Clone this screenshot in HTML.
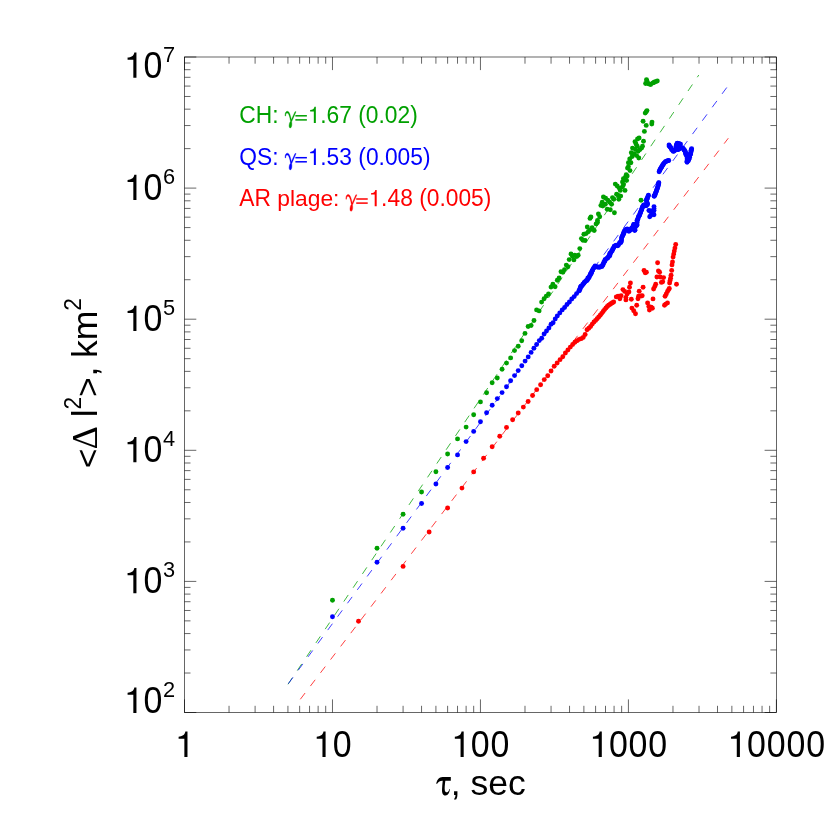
<!DOCTYPE html>
<html><head><meta charset="utf-8"><title>MSD vs tau</title>
<style>
html,body{margin:0;padding:0;background:#fff;}
body{width:830px;height:830px;overflow:hidden;font-family:"Liberation Sans",sans-serif;}
svg{display:block;will-change:transform;}
</style></head><body>
<svg width="830" height="830" viewBox="0 0 830 830">
<rect width="830" height="830" fill="#fff"/>
<g stroke="#000" stroke-width="0.6" fill="none" stroke-linecap="butt">
<rect x="184.5" y="57" width="591.9" height="655.5"/>
<path d="M184.5 712.5v-13.1M184.5 57v13.1M229.04 712.5v-6.7M229.04 57v6.7M255.1 712.5v-6.7M255.1 57v6.7M273.59 712.5v-6.7M273.59 57v6.7M287.93 712.5v-6.7M287.93 57v6.7M299.65 712.5v-6.7M299.65 57v6.7M309.55 712.5v-6.7M309.55 57v6.7M318.13 712.5v-6.7M318.13 57v6.7M325.7 712.5v-6.7M325.7 57v6.7M332.48 712.5v-13.1M332.48 57v13.1M377.02 712.5v-6.7M377.02 57v6.7M403.08 712.5v-6.7M403.08 57v6.7M421.56 712.5v-6.7M421.56 57v6.7M435.91 712.5v-6.7M435.91 57v6.7M447.62 712.5v-6.7M447.62 57v6.7M457.53 712.5v-6.7M457.53 57v6.7M466.11 712.5v-6.7M466.11 57v6.7M473.68 712.5v-6.7M473.68 57v6.7M480.45 712.5v-13.1M480.45 57v13.1M524.99 712.5v-6.7M524.99 57v6.7M551.05 712.5v-6.7M551.05 57v6.7M569.54 712.5v-6.7M569.54 57v6.7M583.88 712.5v-6.7M583.88 57v6.7M595.6 712.5v-6.7M595.6 57v6.7M605.5 712.5v-6.7M605.5 57v6.7M614.08 712.5v-6.7M614.08 57v6.7M621.65 712.5v-6.7M621.65 57v6.7M628.42 712.5v-13.1M628.42 57v13.1M672.97 712.5v-6.7M672.97 57v6.7M699.03 712.5v-6.7M699.03 57v6.7M717.51 712.5v-6.7M717.51 57v6.7M731.86 712.5v-6.7M731.86 57v6.7M743.57 712.5v-6.7M743.57 57v6.7M753.48 712.5v-6.7M753.48 57v6.7M762.06 712.5v-6.7M762.06 57v6.7M769.63 712.5v-6.7M769.63 57v6.7M776.4 712.5v-13.1M776.4 57v13.1M184.5 712.5h11.8M776.4 712.5h-11.8M184.5 673.03h6M776.4 673.03h-6M184.5 649.95h6M776.4 649.95h-6M184.5 633.57h6M776.4 633.57h-6M184.5 620.87h6M776.4 620.87h-6M184.5 610.48h6M776.4 610.48h-6M184.5 601.71h6M776.4 601.71h-6M184.5 594.1h6M776.4 594.1h-6M184.5 587.4h6M776.4 587.4h-6M184.5 581.4h11.8M776.4 581.4h-11.8M184.5 541.93h6M776.4 541.93h-6M184.5 518.85h6M776.4 518.85h-6M184.5 502.47h6M776.4 502.47h-6M184.5 489.77h6M776.4 489.77h-6M184.5 479.38h6M776.4 479.38h-6M184.5 470.61h6M776.4 470.61h-6M184.5 463h6M776.4 463h-6M184.5 456.3h6M776.4 456.3h-6M184.5 450.3h11.8M776.4 450.3h-11.8M184.5 410.83h6M776.4 410.83h-6M184.5 387.75h6M776.4 387.75h-6M184.5 371.37h6M776.4 371.37h-6M184.5 358.67h6M776.4 358.67h-6M184.5 348.28h6M776.4 348.28h-6M184.5 339.51h6M776.4 339.51h-6M184.5 331.9h6M776.4 331.9h-6M184.5 325.2h6M776.4 325.2h-6M184.5 319.2h11.8M776.4 319.2h-11.8M184.5 279.73h6M776.4 279.73h-6M184.5 256.65h6M776.4 256.65h-6M184.5 240.27h6M776.4 240.27h-6M184.5 227.57h6M776.4 227.57h-6M184.5 217.18h6M776.4 217.18h-6M184.5 208.41h6M776.4 208.41h-6M184.5 200.8h6M776.4 200.8h-6M184.5 194.1h6M776.4 194.1h-6M184.5 188.1h11.8M776.4 188.1h-11.8M184.5 148.63h6M776.4 148.63h-6M184.5 125.55h6M776.4 125.55h-6M184.5 109.17h6M776.4 109.17h-6M184.5 96.47h6M776.4 96.47h-6M184.5 86.08h6M776.4 86.08h-6M184.5 77.31h6M776.4 77.31h-6M184.5 69.7h6M776.4 69.7h-6M184.5 63h6M776.4 63h-6M184.5 57h11.8M776.4 57h-11.8"/>
</g>
<g fill="#000">
<path d="M187.48 756.9L184.36 756.9L184.36 738.87L178.61 738.87L178.61 736.69C182.09 736.55 184.82 735.12 185.35 731.59L187.48 731.59Z"/>
<path d="M325.59 756.9L322.46 756.9L322.46 738.87L316.71 738.87L316.71 736.69C320.19 736.55 322.93 735.12 323.46 731.59L325.59 731.59Z"/>
<text transform="translate(342.09 756.9) scale(0.955 1.036)" font-family="Liberation Sans, sans-serif" font-size="35.5" text-anchor="middle" xml:space="preserve">0</text>
<path d="M463.69 756.9L460.57 756.9L460.57 738.87L454.82 738.87L454.82 736.69C458.3 736.55 461.03 735.12 461.56 731.59L463.69 731.59Z"/>
<text transform="translate(480.2 756.9) scale(0.955 1.036)" font-family="Liberation Sans, sans-serif" font-size="35.5" text-anchor="middle" xml:space="preserve">0</text>
<text transform="translate(499.94 756.9) scale(0.955 1.036)" font-family="Liberation Sans, sans-serif" font-size="35.5" text-anchor="middle" xml:space="preserve">0</text>
<path d="M601.8 756.9L598.68 756.9L598.68 738.87L592.92 738.87L592.92 736.69C596.4 736.55 599.14 735.12 599.67 731.59L601.8 731.59Z"/>
<text transform="translate(618.31 756.9) scale(0.955 1.036)" font-family="Liberation Sans, sans-serif" font-size="35.5" text-anchor="middle" xml:space="preserve">0</text>
<text transform="translate(638.04 756.9) scale(0.955 1.036)" font-family="Liberation Sans, sans-serif" font-size="35.5" text-anchor="middle" xml:space="preserve">0</text>
<text transform="translate(657.78 756.9) scale(0.955 1.036)" font-family="Liberation Sans, sans-serif" font-size="35.5" text-anchor="middle" xml:space="preserve">0</text>
<path d="M739.91 756.9L736.78 756.9L736.78 738.87L731.03 738.87L731.03 736.69C734.51 736.55 737.24 735.12 737.78 731.59L739.91 731.59Z"/>
<text transform="translate(756.41 756.9) scale(0.955 1.036)" font-family="Liberation Sans, sans-serif" font-size="35.5" text-anchor="middle" xml:space="preserve">0</text>
<text transform="translate(776.15 756.9) scale(0.955 1.036)" font-family="Liberation Sans, sans-serif" font-size="35.5" text-anchor="middle" xml:space="preserve">0</text>
<text transform="translate(795.89 756.9) scale(0.955 1.036)" font-family="Liberation Sans, sans-serif" font-size="35.5" text-anchor="middle" xml:space="preserve">0</text>
<text transform="translate(815.63 756.9) scale(0.955 1.036)" font-family="Liberation Sans, sans-serif" font-size="35.5" text-anchor="middle" xml:space="preserve">0</text>
<path d="M136.45 77.7L133.33 77.7L133.33 59.67L127.58 59.67L127.58 57.49C131.06 57.35 133.79 55.92 134.32 52.39L136.45 52.39Z"/>
<text transform="translate(152.96 77.7) scale(0.955 1.036)" font-family="Liberation Sans, sans-serif" font-size="35.5" text-anchor="middle" xml:space="preserve">0</text>
<text transform="translate(163.08 61.5) scale(1 1.036)" font-family="Liberation Sans, sans-serif" font-size="21.8" xml:space="preserve">7</text>
<path d="M136.45 200.1L133.33 200.1L133.33 182.07L127.58 182.07L127.58 179.89C131.06 179.75 133.79 178.32 134.32 174.79L136.45 174.79Z"/>
<text transform="translate(152.96 200.1) scale(0.955 1.036)" font-family="Liberation Sans, sans-serif" font-size="35.5" text-anchor="middle" xml:space="preserve">0</text>
<text transform="translate(163.08 183.9) scale(1 1.036)" font-family="Liberation Sans, sans-serif" font-size="21.8" xml:space="preserve">6</text>
<path d="M136.45 331.1L133.33 331.1L133.33 313.07L127.58 313.07L127.58 310.89C131.06 310.75 133.79 309.32 134.32 305.79L136.45 305.79Z"/>
<text transform="translate(152.96 331.1) scale(0.955 1.036)" font-family="Liberation Sans, sans-serif" font-size="35.5" text-anchor="middle" xml:space="preserve">0</text>
<text transform="translate(163.08 314.9) scale(1 1.036)" font-family="Liberation Sans, sans-serif" font-size="21.8" xml:space="preserve">5</text>
<path d="M136.45 462.2L133.33 462.2L133.33 444.17L127.58 444.17L127.58 441.99C131.06 441.85 133.79 440.42 134.32 436.89L136.45 436.89Z"/>
<text transform="translate(152.96 462.2) scale(0.955 1.036)" font-family="Liberation Sans, sans-serif" font-size="35.5" text-anchor="middle" xml:space="preserve">0</text>
<text transform="translate(163.08 446) scale(1 1.036)" font-family="Liberation Sans, sans-serif" font-size="21.8" xml:space="preserve">4</text>
<path d="M136.45 593.3L133.33 593.3L133.33 575.27L127.58 575.27L127.58 573.09C131.06 572.95 133.79 571.52 134.32 567.99L136.45 567.99Z"/>
<text transform="translate(152.96 593.3) scale(0.955 1.036)" font-family="Liberation Sans, sans-serif" font-size="35.5" text-anchor="middle" xml:space="preserve">0</text>
<text transform="translate(163.08 577.1) scale(1 1.036)" font-family="Liberation Sans, sans-serif" font-size="21.8" xml:space="preserve">3</text>
<path d="M136.45 712.9L133.33 712.9L133.33 694.87L127.58 694.87L127.58 692.69C131.06 692.55 133.79 691.12 134.32 687.59L136.45 687.59Z"/>
<text transform="translate(152.96 712.9) scale(0.955 1.036)" font-family="Liberation Sans, sans-serif" font-size="35.5" text-anchor="middle" xml:space="preserve">0</text>
<text transform="translate(163.08 696.7) scale(1 1.036)" font-family="Liberation Sans, sans-serif" font-size="21.8" xml:space="preserve">2</text>
<path d="M436.17 783.7C437.23 779.46 439.16 777.14 442.53 777.05L450.82 777.05L450.82 780.66L445.33 780.66C444.84 784.28 444.46 788.13 444.84 790.54C445.18 792.47 446.87 792.71 448.07 791.75C448.8 791.02 449.18 790.06 449.42 789L449.9 789.1C449.52 792.47 448.31 795.6 445.42 795.6C442.77 795.6 441.81 792.95 442.05 789.1C442.14 786.2 442.43 783.31 442.72 780.66C440.6 780.52 438.43 781.14 437.13 783.8Z"/>
<text transform="translate(450.8 794.6) scale(1 1.0)" font-family="Liberation Sans, sans-serif" font-size="35.5" xml:space="preserve">, sec</text>
<g transform="translate(96.7 0) rotate(-90)">
<text transform="translate(-468.2 2.7) scale(1 1.0)" font-family="Liberation Sans, sans-serif" font-size="33.5" xml:space="preserve">&lt;</text>
<text transform="translate(-449.2 0) scale(1 1.0)" font-family="Liberation Serif, serif" font-size="35.8" xml:space="preserve">Δ</text>
<text transform="translate(-417.3 0) scale(1 1.0)" font-family="Liberation Sans, sans-serif" font-size="35.5" xml:space="preserve">l</text>
<text transform="translate(-409.42 -15.6) scale(1 1.036)" font-family="Liberation Sans, sans-serif" font-size="22.6" xml:space="preserve">2</text>
<text transform="translate(-397.04 2.7) scale(1 1.0)" font-family="Liberation Sans, sans-serif" font-size="33.5" xml:space="preserve">&gt;</text>
<text transform="translate(-376.51 0) scale(1 1.0)" font-family="Liberation Sans, sans-serif" font-size="35.5" xml:space="preserve">,</text>
<text transform="translate(-358 0) scale(1 1.0)" font-family="Liberation Sans, sans-serif" font-size="35.5" xml:space="preserve">km</text>
<text transform="translate(-310.68 -15.6) scale(1 1.036)" font-family="Liberation Sans, sans-serif" font-size="22.6" xml:space="preserve">2</text>
</g>
</g>
<g fill="#00a000">
<text transform="translate(239.3 123) scale(1 1.036)" font-family="Liberation Sans, sans-serif" font-size="22.8" xml:space="preserve">CH: </text>
<path stroke="#00a000" stroke-width="0.35" stroke-linejoin="round" d="M285.02 116C284.88 113.11 285.84 111.28 287.43 111.28C289.46 111.28 290.66 116 291.29 119.86L295 111.67L296.06 111.67L291.63 121.79C292.11 124.2 291.96 127.09 290.52 128.05C289.22 128.29 288.73 126.12 289.36 123.71C289.6 122.75 290.04 122.03 290.52 121.3C290.04 117.93 288.98 113.11 287.14 113.02C286.18 113.02 285.7 114.32 285.6 116Z"/>
<rect x="295.37" y="115.05" width="11.5" height="1.5"/>
<rect x="295.37" y="119.15" width="11.5" height="1.5"/>
<path d="M315.84 123L313.83 123L313.83 111.39L310.14 111.39L310.14 109.98C312.37 109.89 314.13 108.97 314.47 106.69L315.84 106.69Z"/>
<text transform="translate(320.26 123) scale(1 1.036)" font-family="Liberation Sans, sans-serif" font-size="22.8" xml:space="preserve">.67 (0.02)</text>
</g>
<g fill="#0000ff">
<text transform="translate(239.3 164.9) scale(1 1.036)" font-family="Liberation Sans, sans-serif" font-size="22.8" xml:space="preserve">QS: </text>
<path stroke="#0000ff" stroke-width="0.35" stroke-linejoin="round" d="M285.05 157.9C284.9 155.01 285.87 153.18 287.46 153.18C289.48 153.18 290.69 157.9 291.31 161.76L295.02 153.57L296.08 153.57L291.65 163.69C292.13 166.1 291.99 168.99 290.54 169.95C289.24 170.19 288.76 168.02 289.38 165.61C289.63 164.65 290.06 163.93 290.54 163.2C290.06 159.83 289 155.01 287.17 154.92C286.2 154.92 285.72 156.22 285.63 157.9Z"/>
<rect x="295.39" y="156.95" width="11.5" height="1.5"/>
<rect x="295.39" y="161.05" width="11.5" height="1.5"/>
<path d="M315.86 164.9L313.86 164.9L313.86 153.28L310.16 153.28L310.16 151.88C312.4 151.79 314.15 150.87 314.49 148.59L315.86 148.59Z"/>
<text transform="translate(320.29 164.9) scale(1 1.036)" font-family="Liberation Sans, sans-serif" font-size="22.8" xml:space="preserve">.53 (0.005)</text>
</g>
<g fill="#ff0000">
<text transform="translate(239.3 206.2) scale(1 1.036)" font-family="Liberation Sans, sans-serif" font-size="22.8" xml:space="preserve">AR </text>
<text transform="translate(277.31 206.2) scale(1 1.0)" font-family="Liberation Sans, sans-serif" font-size="22.8" xml:space="preserve">plage: </text>
<path stroke="#ff0000" stroke-width="0.35" stroke-linejoin="round" d="M345.88 199.2C345.73 196.31 346.7 194.48 348.29 194.48C350.31 194.48 351.52 199.2 352.14 203.06L355.85 194.87L356.91 194.87L352.48 204.99C352.96 207.4 352.82 210.29 351.37 211.25C350.07 211.49 349.59 209.32 350.21 206.91C350.46 205.95 350.89 205.23 351.37 204.5C350.89 201.13 349.83 196.31 348 196.22C347.03 196.22 346.55 197.52 346.46 199.2Z"/>
<rect x="356.22" y="198.25" width="11.5" height="1.5"/>
<rect x="356.22" y="202.35" width="11.5" height="1.5"/>
<path d="M376.69 206.2L374.69 206.2L374.69 194.58L370.99 194.58L370.99 193.18C373.23 193.09 374.98 192.17 375.32 189.89L376.69 189.89Z"/>
<text transform="translate(381.12 206.2) scale(1 1.036)" font-family="Liberation Sans, sans-serif" font-size="22.8" xml:space="preserve">.48 (0.005)</text>
</g>
<g fill="none" stroke-width="0.75" stroke-dasharray="7.9 8.74">
<path stroke="#00a000" d="M288 684.3L698.8 75"/>
<path stroke="#0000ff" d="M288.3 683.7L727.2 86.9"/>
<path stroke="#ff0000" d="M300.3 699.3L728.3 138.2"/>
</g>
<g fill="#00a000"><circle cx="332.48" cy="600.3" r="2.45"/><circle cx="377.02" cy="548.3" r="2.45"/><circle cx="403.08" cy="514.3" r="2.45"/><circle cx="421.56" cy="492" r="2.45"/><circle cx="435.91" cy="471.7" r="2.45"/><circle cx="447.62" cy="454" r="2.45"/><circle cx="457.53" cy="438.9" r="2.45"/><circle cx="466.11" cy="427.1" r="2.45"/><circle cx="473.68" cy="414.7" r="2.45"/><circle cx="480.45" cy="401.9" r="2.45"/><circle cx="486.58" cy="392.8" r="2.45"/><circle cx="492.17" cy="382.8" r="2.45"/><circle cx="497.31" cy="378" r="2.45"/><circle cx="502.07" cy="369.3" r="2.45"/><circle cx="506.51" cy="363.1" r="2.45"/><circle cx="510.65" cy="357.9" r="2.45"/><circle cx="514.55" cy="350.6" r="2.45"/><circle cx="518.22" cy="346.3" r="2.45"/><circle cx="521.7" cy="340.7" r="2.45"/><circle cx="524.99" cy="333.4" r="2.45"/><circle cx="528.13" cy="326.5" r="2.45"/><circle cx="531.12" cy="325.5" r="2.45"/><circle cx="533.98" cy="320.5" r="2.45"/><circle cx="536.6" cy="309.9" r="2.45"/><circle cx="539.1" cy="310.9" r="2.45"/><circle cx="541.6" cy="302.1" r="2.45"/><circle cx="544.1" cy="298.7" r="2.45"/><circle cx="546.3" cy="296.1" r="2.45"/><circle cx="548.5" cy="294" r="2.45"/><circle cx="551" cy="287.1" r="2.45"/><circle cx="552.9" cy="284.2" r="2.45"/><circle cx="555.1" cy="286.7" r="2.45"/><circle cx="557.3" cy="280.2" r="2.45"/><circle cx="559.1" cy="278" r="2.45"/><circle cx="561" cy="271.7" r="2.45"/><circle cx="562.9" cy="272.3" r="2.45"/><circle cx="564.5" cy="269.8" r="2.45"/><circle cx="566.3" cy="265.1" r="2.45"/><circle cx="567.9" cy="266.7" r="2.45"/><circle cx="569.2" cy="259.6" r="2.45"/><circle cx="571" cy="254" r="2.45"/><circle cx="573.9" cy="259.9" r="2.45"/><circle cx="574.8" cy="255.2" r="2.45"/><circle cx="576.7" cy="256.5" r="2.45"/><circle cx="578.2" cy="255.2" r="2.45"/><circle cx="579.8" cy="248.6" r="2.45"/><circle cx="581.4" cy="238.6" r="2.45"/><circle cx="582.9" cy="240.2" r="2.45"/><circle cx="585.1" cy="240.5" r="2.45"/><circle cx="583.9" cy="234.2" r="2.45"/><circle cx="586.1" cy="233.6" r="2.45"/><circle cx="588.3" cy="231.7" r="2.45"/><circle cx="589.8" cy="230.1" r="2.45"/><circle cx="587.3" cy="227" r="2.45"/><circle cx="592.3" cy="228.9" r="2.45"/><circle cx="594.2" cy="230.5" r="2.45"/><circle cx="596.1" cy="223.9" r="2.45"/><circle cx="597.4" cy="222.6" r="2.45"/><circle cx="572.5" cy="256.4" r="2.45"/><circle cx="590" cy="218.4" r="2.45"/><circle cx="592.1" cy="227.7" r="2.45"/><circle cx="590.9" cy="217" r="2.45"/><circle cx="597.5" cy="220.5" r="2.45"/><circle cx="599.7" cy="216.7" r="2.45"/><circle cx="598.4" cy="213.9" r="2.45"/><circle cx="600.9" cy="205.4" r="2.45"/><circle cx="602.2" cy="202.3" r="2.45"/><circle cx="602.8" cy="206.1" r="2.45"/><circle cx="605.3" cy="204.2" r="2.45"/><circle cx="603.4" cy="197" r="2.45"/><circle cx="605.6" cy="198.2" r="2.45"/><circle cx="607.8" cy="200.1" r="2.45"/><circle cx="609.7" cy="202.3" r="2.45"/><circle cx="611.6" cy="204.2" r="2.45"/><circle cx="607.2" cy="209.2" r="2.45"/><circle cx="610.3" cy="209.8" r="2.45"/><circle cx="614.4" cy="212.7" r="2.45"/><circle cx="612.5" cy="197.6" r="2.45"/><circle cx="613.8" cy="199.2" r="2.45"/><circle cx="616.6" cy="194.2" r="2.45"/><circle cx="618.5" cy="195.4" r="2.45"/><circle cx="620.7" cy="196.1" r="2.45"/><circle cx="618.8" cy="199.2" r="2.45"/><circle cx="615.3" cy="184.1" r="2.45"/><circle cx="617.2" cy="186" r="2.45"/><circle cx="619.4" cy="188.2" r="2.45"/><circle cx="620.3" cy="190.4" r="2.45"/><circle cx="625" cy="190.4" r="2.45"/><circle cx="622.5" cy="186.7" r="2.45"/><circle cx="623.5" cy="184.8" r="2.45"/><circle cx="622.5" cy="182" r="2.45"/><circle cx="624.7" cy="179.8" r="2.45"/><circle cx="626.6" cy="180.4" r="2.45"/><circle cx="625.4" cy="177.3" r="2.45"/><circle cx="627.2" cy="176" r="2.45"/><circle cx="644.4" cy="131.4" r="2.45"/><circle cx="643.5" cy="141.2" r="2.45"/><circle cx="639.1" cy="138" r="2.45"/><circle cx="637.5" cy="139" r="2.45"/><circle cx="635" cy="141.8" r="2.45"/><circle cx="636" cy="144" r="2.45"/><circle cx="637.2" cy="146.2" r="2.45"/><circle cx="642.5" cy="146.2" r="2.45"/><circle cx="641.6" cy="148.1" r="2.45"/><circle cx="632.5" cy="148.1" r="2.45"/><circle cx="635.3" cy="149.3" r="2.45"/><circle cx="638.1" cy="151.2" r="2.45"/><circle cx="640" cy="149.6" r="2.45"/><circle cx="631.3" cy="152.7" r="2.45"/><circle cx="634.1" cy="153.7" r="2.45"/><circle cx="636.6" cy="155.6" r="2.45"/><circle cx="638.8" cy="158" r="2.45"/><circle cx="632.2" cy="156.5" r="2.45"/><circle cx="629.7" cy="159" r="2.45"/><circle cx="628.4" cy="162.8" r="2.45"/><circle cx="630.9" cy="162.8" r="2.45"/><circle cx="627.5" cy="168.1" r="2.45"/><circle cx="630" cy="170.6" r="2.45"/><circle cx="628.4" cy="166.8" r="2.45"/><circle cx="626.2" cy="174.7" r="2.45"/><circle cx="623.4" cy="178.8" r="2.45"/><circle cx="646.5" cy="79.8" r="2.45"/><circle cx="645.6" cy="83.5" r="2.45"/><circle cx="648.3" cy="83.7" r="2.45"/><circle cx="650.7" cy="84.5" r="2.45"/><circle cx="653" cy="82.9" r="2.45"/><circle cx="655.4" cy="81.7" r="2.45"/><circle cx="657.3" cy="81" r="2.45"/><circle cx="647" cy="110.6" r="2.45"/><circle cx="645.2" cy="113.1" r="2.45"/><circle cx="643.1" cy="121.3" r="2.45"/><circle cx="652" cy="122.1" r="2.45"/><circle cx="651.8" cy="124" r="2.45"/><circle cx="646.2" cy="125.4" r="2.45"/><circle cx="647" cy="80.9" r="2.45"/><circle cx="649.5" cy="84" r="2.45"/><circle cx="654.2" cy="82.3" r="2.45"/><circle cx="646.2" cy="111.8" r="2.45"/><circle cx="641" cy="200.2" r="2.45"/></g>
<g fill="#0000ff"><circle cx="332.48" cy="616.7" r="2.45"/><circle cx="377.02" cy="562.2" r="2.45"/><circle cx="403.08" cy="528.2" r="2.45"/><circle cx="421.56" cy="503.5" r="2.45"/><circle cx="435.91" cy="484" r="2.45"/><circle cx="447.62" cy="467.5" r="2.45"/><circle cx="457.53" cy="454.9" r="2.45"/><circle cx="466.11" cy="441.6" r="2.45"/><circle cx="473.68" cy="431.4" r="2.45"/><circle cx="480.45" cy="421.8" r="2.45"/><circle cx="486.58" cy="412.7" r="2.45"/><circle cx="492.17" cy="405.3" r="2.45"/><circle cx="497.31" cy="398.6" r="2.45"/><circle cx="502.07" cy="392.6" r="2.45"/><circle cx="506.51" cy="386.8" r="2.45"/><circle cx="510.65" cy="380.7" r="2.45"/><circle cx="514.55" cy="375.6" r="2.45"/><circle cx="518.22" cy="370.6" r="2.45"/><circle cx="521.8" cy="365.7" r="2.45"/><circle cx="525.1" cy="361.1" r="2.45"/><circle cx="528.2" cy="356.9" r="2.45"/><circle cx="531.1" cy="352.4" r="2.45"/><circle cx="533.9" cy="348.2" r="2.45"/><circle cx="536.6" cy="344.5" r="2.45"/><circle cx="539.3" cy="340.6" r="2.45"/><circle cx="541.7" cy="338.2" r="2.45"/><circle cx="544.1" cy="334" r="2.45"/><circle cx="546.5" cy="331" r="2.45"/><circle cx="548.9" cy="328" r="2.45"/><circle cx="551.1" cy="324.3" r="2.45"/><circle cx="553.1" cy="322.8" r="2.45"/><circle cx="555.2" cy="318.9" r="2.45"/><circle cx="557.3" cy="315.9" r="2.45"/><circle cx="559.8" cy="312.9" r="2.45"/><circle cx="562.2" cy="309.9" r="2.45"/><circle cx="564.6" cy="307.5" r="2.45"/><circle cx="567" cy="304.5" r="2.45"/><circle cx="569.4" cy="302" r="2.45"/><circle cx="571.8" cy="299" r="2.45"/><circle cx="574.2" cy="296.6" r="2.45"/><circle cx="576.6" cy="293.6" r="2.45"/><circle cx="579" cy="290.6" r="2.45"/><circle cx="579.32" cy="290.69" r="2.45"/><circle cx="579.45" cy="290.05" r="2.45"/><circle cx="580.27" cy="288.7" r="2.45"/><circle cx="580.37" cy="287.31" r="2.45"/><circle cx="580.98" cy="286.29" r="2.45"/><circle cx="581.67" cy="286.19" r="2.45"/><circle cx="582.59" cy="284.72" r="2.45"/><circle cx="583.35" cy="283.96" r="2.45"/><circle cx="584.03" cy="283.11" r="2.45"/><circle cx="584.25" cy="282.43" r="2.45"/><circle cx="585.14" cy="281.82" r="2.45"/><circle cx="586.22" cy="280.68" r="2.45"/><circle cx="586.89" cy="280.56" r="2.45"/><circle cx="587.69" cy="279.6" r="2.45"/><circle cx="587.86" cy="278.05" r="2.45"/><circle cx="588.98" cy="277.7" r="2.45"/><circle cx="589.22" cy="276.67" r="2.45"/><circle cx="590.2" cy="275.21" r="2.45"/><circle cx="590.34" cy="274.18" r="2.45"/><circle cx="590.83" cy="273.52" r="2.45"/><circle cx="591.52" cy="272.9" r="2.45"/><circle cx="592" cy="271.24" r="2.45"/><circle cx="591.95" cy="271.11" r="2.45"/><circle cx="592.62" cy="270.12" r="2.45"/><circle cx="593.24" cy="268.58" r="2.45"/><circle cx="593.95" cy="267.73" r="2.45"/><circle cx="594.45" cy="267.35" r="2.45"/><circle cx="595.09" cy="266.06" r="2.45"/><circle cx="596.28" cy="266.5" r="2.45"/><circle cx="597.49" cy="267.15" r="2.45"/><circle cx="598.54" cy="267.17" r="2.45"/><circle cx="599.74" cy="267.22" r="2.45"/><circle cx="600.26" cy="266.65" r="2.45"/><circle cx="601.76" cy="266.64" r="2.45"/><circle cx="602.28" cy="265.67" r="2.45"/><circle cx="602.86" cy="265.01" r="2.45"/><circle cx="603.12" cy="264.21" r="2.45"/><circle cx="603.74" cy="262.57" r="2.45"/><circle cx="604.41" cy="261.67" r="2.45"/><circle cx="604.94" cy="260.88" r="2.45"/><circle cx="604.97" cy="260.07" r="2.45"/><circle cx="605.47" cy="259.46" r="2.45"/><circle cx="606.87" cy="258.39" r="2.45"/><circle cx="607.66" cy="257.96" r="2.45"/><circle cx="608.24" cy="257.18" r="2.45"/><circle cx="608.92" cy="256.06" r="2.45"/><circle cx="609.81" cy="255.69" r="2.45"/><circle cx="609.72" cy="253.75" r="2.45"/><circle cx="610.23" cy="253.15" r="2.45"/><circle cx="610.86" cy="252.75" r="2.45"/><circle cx="611.6" cy="251.08" r="2.45"/><circle cx="612.27" cy="250.75" r="2.45"/><circle cx="612.74" cy="249.13" r="2.45"/><circle cx="613" cy="248.79" r="2.45"/><circle cx="614" cy="247.32" r="2.45"/><circle cx="614.19" cy="246.28" r="2.45"/><circle cx="615.46" cy="245.73" r="2.45"/><circle cx="616.2" cy="245.23" r="2.45"/><circle cx="617.75" cy="245.73" r="2.45"/><circle cx="618.41" cy="244.93" r="2.45"/><circle cx="619.36" cy="243.56" r="2.45"/><circle cx="619.85" cy="242.56" r="2.45"/><circle cx="620.9" cy="242.46" r="2.45"/><circle cx="621.38" cy="241.05" r="2.45"/><circle cx="621.2" cy="240.69" r="2.45"/><circle cx="621.55" cy="239.02" r="2.45"/><circle cx="621.76" cy="237.54" r="2.45"/><circle cx="622.07" cy="236.83" r="2.45"/><circle cx="622.54" cy="235.77" r="2.45"/><circle cx="622.95" cy="235.02" r="2.45"/><circle cx="623.42" cy="234.15" r="2.45"/><circle cx="623.61" cy="232.74" r="2.45"/><circle cx="624.19" cy="232.38" r="2.45"/><circle cx="624.45" cy="230.86" r="2.45"/><circle cx="625.24" cy="229.9" r="2.45"/><circle cx="626.11" cy="229.52" r="2.45"/><circle cx="627.16" cy="228.84" r="2.45"/><circle cx="627.66" cy="229.77" r="2.45"/><circle cx="628.01" cy="230.76" r="2.45"/><circle cx="628.95" cy="231.37" r="2.45"/><circle cx="629.86" cy="230.58" r="2.45"/><circle cx="630.24" cy="229.64" r="2.45"/><circle cx="631.24" cy="228.78" r="2.45"/><circle cx="632.04" cy="227.8" r="2.45"/><circle cx="632.92" cy="227.91" r="2.45"/><circle cx="633.49" cy="226.41" r="2.45"/><circle cx="633.76" cy="225.37" r="2.45"/><circle cx="633.99" cy="224.33" r="2.45"/><circle cx="633.69" cy="224.56" r="2.45"/><circle cx="634.04" cy="225.31" r="2.45"/><circle cx="634.25" cy="226.12" r="2.45"/><circle cx="633.99" cy="227.2" r="2.45"/><circle cx="634.71" cy="228.95" r="2.45"/><circle cx="634.31" cy="230.11" r="2.45"/><circle cx="634.71" cy="230.28" r="2.45"/><circle cx="634.9" cy="230.24" r="2.45"/><circle cx="634.69" cy="229.17" r="2.45"/><circle cx="635.12" cy="227.25" r="2.45"/><circle cx="635.25" cy="227" r="2.45"/><circle cx="635.12" cy="225.63" r="2.45"/><circle cx="635.01" cy="224.76" r="2.45"/><circle cx="635.87" cy="224.47" r="2.45"/><circle cx="636.49" cy="225.38" r="2.45"/><circle cx="636.87" cy="225.21" r="2.45"/><circle cx="636.93" cy="224.58" r="2.45"/><circle cx="636.93" cy="223.09" r="2.45"/><circle cx="637.13" cy="222.09" r="2.45"/><circle cx="637.01" cy="220.56" r="2.45"/><circle cx="637.72" cy="219.52" r="2.45"/><circle cx="637.83" cy="219.08" r="2.45"/><circle cx="638.26" cy="217.72" r="2.45"/><circle cx="638.58" cy="216.36" r="2.45"/><circle cx="638.98" cy="216.34" r="2.45"/><circle cx="639.79" cy="214.74" r="2.45"/><circle cx="639.93" cy="213.61" r="2.45"/><circle cx="640.49" cy="212.71" r="2.45"/><circle cx="640.66" cy="212.01" r="2.45"/><circle cx="641.35" cy="210.37" r="2.45"/><circle cx="641.73" cy="209.82" r="2.45"/><circle cx="641.87" cy="208.68" r="2.45"/><circle cx="642.42" cy="207.14" r="2.45"/><circle cx="642.61" cy="206.9" r="2.45"/><circle cx="643.38" cy="205.8" r="2.45"/><circle cx="643.84" cy="204.83" r="2.45"/><circle cx="644.89" cy="204.83" r="2.45"/><circle cx="645.92" cy="205.69" r="2.45"/><circle cx="646.41" cy="205.61" r="2.45"/><circle cx="647.54" cy="204.48" r="2.45"/><circle cx="647.38" cy="203.57" r="2.45"/><circle cx="647.03" cy="202.96" r="2.45"/><circle cx="646.63" cy="201.67" r="2.45"/><circle cx="646.52" cy="200.15" r="2.45"/><circle cx="646.79" cy="199.31" r="2.45"/><circle cx="647.31" cy="198.48" r="2.45"/><circle cx="647.33" cy="197.7" r="2.45"/><circle cx="648.22" cy="196.02" r="2.45"/><circle cx="648.44" cy="195.28" r="2.45"/><circle cx="654" cy="196" r="2.45"/><circle cx="654" cy="206.6" r="2.45"/><circle cx="648.9" cy="210.5" r="2.45"/><circle cx="651.7" cy="211.3" r="2.45"/><circle cx="654" cy="210.5" r="2.45"/><circle cx="651.7" cy="214" r="2.45"/><circle cx="654" cy="214.8" r="2.45"/><circle cx="649.7" cy="216.8" r="2.45"/><circle cx="650.4" cy="210.9" r="2.45"/><circle cx="652.9" cy="212.6" r="2.45"/><circle cx="654" cy="208.6" r="2.45"/><circle cx="650.7" cy="215.4" r="2.45"/><circle cx="654.3" cy="196.3" r="2.45"/><circle cx="654.67" cy="195.37" r="2.45"/><circle cx="655.04" cy="194.44" r="2.45"/><circle cx="655.41" cy="193.51" r="2.45"/><circle cx="655.78" cy="192.58" r="2.45"/><circle cx="656.14" cy="191.65" r="2.45"/><circle cx="656.5" cy="190.72" r="2.45"/><circle cx="656.84" cy="189.78" r="2.45"/><circle cx="657.16" cy="188.83" r="2.45"/><circle cx="657.47" cy="187.88" r="2.45"/><circle cx="657.78" cy="186.93" r="2.45"/><circle cx="658.07" cy="185.97" r="2.45"/><circle cx="658.36" cy="185.01" r="2.45"/><circle cx="658.62" cy="184.05" r="2.45"/><circle cx="658.76" cy="183.06" r="2.45"/><circle cx="658.8" cy="182.8" r="2.45"/><circle cx="659.1" cy="171.7" r="2.45"/><circle cx="659.52" cy="170.79" r="2.45"/><circle cx="659.94" cy="169.89" r="2.45"/><circle cx="660.36" cy="168.98" r="2.45"/><circle cx="660.89" cy="168.13" r="2.45"/><circle cx="661.42" cy="167.28" r="2.45"/><circle cx="661.94" cy="166.43" r="2.45"/><circle cx="662.46" cy="165.57" r="2.45"/><circle cx="662.98" cy="164.72" r="2.45"/><circle cx="663.54" cy="163.89" r="2.45"/><circle cx="664.12" cy="163.08" r="2.45"/><circle cx="664.83" cy="162.37" r="2.45"/><circle cx="665.53" cy="161.67" r="2.45"/><circle cx="666.4" cy="161.21" r="2.45"/><circle cx="667.35" cy="160.92" r="2.45"/><circle cx="668.31" cy="160.62" r="2.45"/><circle cx="668.7" cy="160.5" r="2.45"/><circle cx="669.03" cy="145.06" r="2.45"/><circle cx="669.31" cy="146.16" r="2.45"/><circle cx="670.08" cy="146.75" r="2.45"/><circle cx="670.34" cy="147.3" r="2.45"/><circle cx="670.97" cy="148.12" r="2.45"/><circle cx="671.53" cy="149.49" r="2.45"/><circle cx="672.25" cy="149.84" r="2.45"/><circle cx="672.85" cy="150.69" r="2.45"/><circle cx="673.41" cy="151.4" r="2.45"/><circle cx="673.86" cy="150.94" r="2.45"/><circle cx="674.8" cy="150.53" r="2.45"/><circle cx="675.65" cy="149.58" r="2.45"/><circle cx="675.85" cy="149.13" r="2.45"/><circle cx="676.14" cy="148.06" r="2.45"/><circle cx="675.97" cy="146.57" r="2.45"/><circle cx="676.49" cy="145.94" r="2.45"/><circle cx="676.4" cy="144.86" r="2.45"/><circle cx="677" cy="143.55" r="2.45"/><circle cx="677.5" cy="143.18" r="2.45"/><circle cx="678.53" cy="143.43" r="2.45"/><circle cx="679.62" cy="144.07" r="2.45"/><circle cx="680.52" cy="144.09" r="2.45"/><circle cx="679.96" cy="145.61" r="2.45"/><circle cx="679.78" cy="146.55" r="2.45"/><circle cx="679.57" cy="147.08" r="2.45"/><circle cx="679.43" cy="148.12" r="2.45"/><circle cx="678.71" cy="149.27" r="2.45"/><circle cx="677.94" cy="149.34" r="2.45"/><circle cx="677.85" cy="149.6" r="2.45"/><circle cx="678.66" cy="149.07" r="2.45"/><circle cx="679.35" cy="148.31" r="2.45"/><circle cx="680.35" cy="148.23" r="2.45"/><circle cx="680.93" cy="147.87" r="2.45"/><circle cx="682.24" cy="147.92" r="2.45"/><circle cx="682.9" cy="148.09" r="2.45"/><circle cx="683.57" cy="149.12" r="2.45"/><circle cx="684.02" cy="150.06" r="2.45"/><circle cx="684.63" cy="150.43" r="2.45"/><circle cx="685.13" cy="151.43" r="2.45"/><circle cx="685.53" cy="152.51" r="2.45"/><circle cx="685.57" cy="153.57" r="2.45"/><circle cx="685.93" cy="154.7" r="2.45"/><circle cx="686.8" cy="155.4" r="2.45"/><circle cx="687.23" cy="156.56" r="2.45"/><circle cx="687.25" cy="157.54" r="2.45"/><circle cx="687.34" cy="158.28" r="2.45"/><circle cx="687.65" cy="159.61" r="2.45"/><circle cx="687.14" cy="159.91" r="2.45"/><circle cx="687" cy="161.18" r="2.45"/><circle cx="687.1" cy="162.23" r="2.45"/><circle cx="687.83" cy="160.9" r="2.45"/><circle cx="688.47" cy="160.52" r="2.45"/><circle cx="688.92" cy="159.17" r="2.45"/><circle cx="688.98" cy="158.65" r="2.45"/><circle cx="689.58" cy="157.31" r="2.45"/><circle cx="689.46" cy="156.15" r="2.45"/><circle cx="689.96" cy="155.15" r="2.45"/><circle cx="690.04" cy="154.19" r="2.45"/><circle cx="690.69" cy="153.94" r="2.45"/><circle cx="690.75" cy="152.83" r="2.45"/><circle cx="691.09" cy="151.42" r="2.45"/><circle cx="691.05" cy="150.26" r="2.45"/><circle cx="691.4" cy="149.76" r="2.45"/><circle cx="691.63" cy="148.65" r="2.45"/></g>
<g fill="#ff0000"><circle cx="358.53" cy="621.3" r="2.45"/><circle cx="403.08" cy="566.4" r="2.45"/><circle cx="429.13" cy="532" r="2.45"/><circle cx="447.62" cy="508" r="2.45"/><circle cx="461.96" cy="488.1" r="2.45"/><circle cx="473.68" cy="471.9" r="2.45"/><circle cx="483.59" cy="458.2" r="2.45"/><circle cx="492.17" cy="446.8" r="2.45"/><circle cx="499.74" cy="436.2" r="2.45"/><circle cx="506.51" cy="427.4" r="2.45"/><circle cx="512.63" cy="419.8" r="2.45"/><circle cx="518.22" cy="413" r="2.45"/><circle cx="523.37" cy="407.1" r="2.45"/><circle cx="528.13" cy="401.5" r="2.45"/><circle cx="532.56" cy="395.5" r="2.45"/><circle cx="536.71" cy="389.64" r="2.45"/><circle cx="540.61" cy="384.75" r="2.45"/><circle cx="544.28" cy="379.6" r="2.45"/><circle cx="547.76" cy="375.72" r="2.45"/><circle cx="551.05" cy="371.07" r="2.45"/><circle cx="554.19" cy="366.29" r="2.45"/><circle cx="557.18" cy="362.95" r="2.45"/><circle cx="560.03" cy="359.66" r="2.45"/><circle cx="562.77" cy="356.69" r="2.45"/><circle cx="565.39" cy="353.06" r="2.45"/><circle cx="567.91" cy="349.95" r="2.45"/><circle cx="570.34" cy="347.11" r="2.45"/><circle cx="572.68" cy="344.52" r="2.45"/><circle cx="574.93" cy="342.27" r="2.45"/><circle cx="577.11" cy="340.66" r="2.45"/><circle cx="579.22" cy="339.33" r="2.45"/><circle cx="581.26" cy="338.67" r="2.45"/><circle cx="583.23" cy="337.4" r="2.45"/><circle cx="585.15" cy="334.46" r="2.45"/><circle cx="587.02" cy="329.7" r="2.45"/><circle cx="588.83" cy="328.2" r="2.45"/><circle cx="590.59" cy="326.38" r="2.45"/><circle cx="592.3" cy="324.1" r="2.45"/><circle cx="593.97" cy="322.03" r="2.45"/><circle cx="595.6" cy="320.4" r="2.45"/><circle cx="597.18" cy="318.8" r="2.45"/><circle cx="598.73" cy="317" r="2.45"/><circle cx="600.24" cy="315.23" r="2.45"/><circle cx="601.72" cy="313.34" r="2.45"/><circle cx="603.17" cy="311.41" r="2.45"/><circle cx="604.58" cy="309.58" r="2.45"/><circle cx="605.96" cy="308.01" r="2.45"/><circle cx="607.31" cy="306.48" r="2.45"/><circle cx="608.64" cy="305.27" r="2.45"/><circle cx="609.94" cy="304.41" r="2.45"/><circle cx="611.21" cy="303.56" r="2.45"/><circle cx="612.46" cy="302.76" r="2.45"/><circle cx="613.68" cy="301.98" r="2.45"/><circle cx="616.3" cy="296.9" r="2.45"/><circle cx="618.1" cy="296.3" r="2.45"/><circle cx="619.9" cy="298.7" r="2.45"/><circle cx="621.1" cy="295.7" r="2.45"/><circle cx="622.9" cy="289.6" r="2.45"/><circle cx="624.7" cy="291.4" r="2.45"/><circle cx="625.9" cy="297.5" r="2.45"/><circle cx="625.9" cy="299.9" r="2.45"/><circle cx="627.1" cy="293.9" r="2.45"/><circle cx="628.9" cy="292" r="2.45"/><circle cx="629.5" cy="287.2" r="2.45"/><circle cx="630.4" cy="283" r="2.45"/><circle cx="631.3" cy="299.3" r="2.45"/><circle cx="631.9" cy="308.1" r="2.45"/><circle cx="633.7" cy="310.7" r="2.45"/><circle cx="635.5" cy="313.7" r="2.45"/><circle cx="636.7" cy="305.3" r="2.45"/><circle cx="638" cy="298.7" r="2.45"/><circle cx="638.6" cy="296.3" r="2.45"/><circle cx="639.2" cy="291.2" r="2.45"/><circle cx="641" cy="296" r="2.45"/><circle cx="642.2" cy="295.7" r="2.45"/><circle cx="643.1" cy="287.2" r="2.45"/><circle cx="644" cy="270.4" r="2.45"/><circle cx="645.2" cy="272.8" r="2.45"/><circle cx="646.4" cy="272.2" r="2.45"/><circle cx="647.6" cy="302.9" r="2.45"/><circle cx="648.8" cy="306.5" r="2.45"/><circle cx="649.4" cy="310.1" r="2.45"/><circle cx="651.2" cy="307.1" r="2.45"/><circle cx="652.4" cy="308.3" r="2.45"/><circle cx="653" cy="298.9" r="2.45"/><circle cx="653.6" cy="289" r="2.45"/><circle cx="654.8" cy="286.6" r="2.45"/><circle cx="655.7" cy="284.2" r="2.45"/><circle cx="656.9" cy="277" r="2.45"/><circle cx="657.6" cy="262.8" r="2.45"/><circle cx="658.4" cy="271" r="2.45"/><circle cx="659.6" cy="272.2" r="2.45"/><circle cx="660.2" cy="277" r="2.45"/><circle cx="661.4" cy="282.4" r="2.45"/><circle cx="662.7" cy="281.8" r="2.45"/><circle cx="663.6" cy="277.6" r="2.45"/><circle cx="664.5" cy="305.3" r="2.45"/><circle cx="665.7" cy="304.1" r="2.45"/><circle cx="667.5" cy="302.9" r="2.45"/><circle cx="665.1" cy="296.3" r="2.45"/><circle cx="666.3" cy="293.9" r="2.45"/><circle cx="667.5" cy="291.4" r="2.45"/><circle cx="668.7" cy="289.6" r="2.45"/><circle cx="669.3" cy="288.4" r="2.45"/><circle cx="669.6" cy="283" r="2.45"/><circle cx="670.1" cy="280.6" r="2.45"/><circle cx="670.6" cy="278.2" r="2.45"/><circle cx="671.1" cy="275.2" r="2.45"/><circle cx="671.7" cy="270.4" r="2.45"/><circle cx="672" cy="264.9" r="2.45"/><circle cx="672.5" cy="261.9" r="2.45"/><circle cx="673.1" cy="257.1" r="2.45"/><circle cx="673.7" cy="254.1" r="2.45"/><circle cx="674.3" cy="251.1" r="2.45"/><circle cx="674.9" cy="248.1" r="2.45"/><circle cx="675.7" cy="244.5" r="2.45"/><circle cx="676.5" cy="284.2" r="2.45"/></g>
</svg>
</body></html>
